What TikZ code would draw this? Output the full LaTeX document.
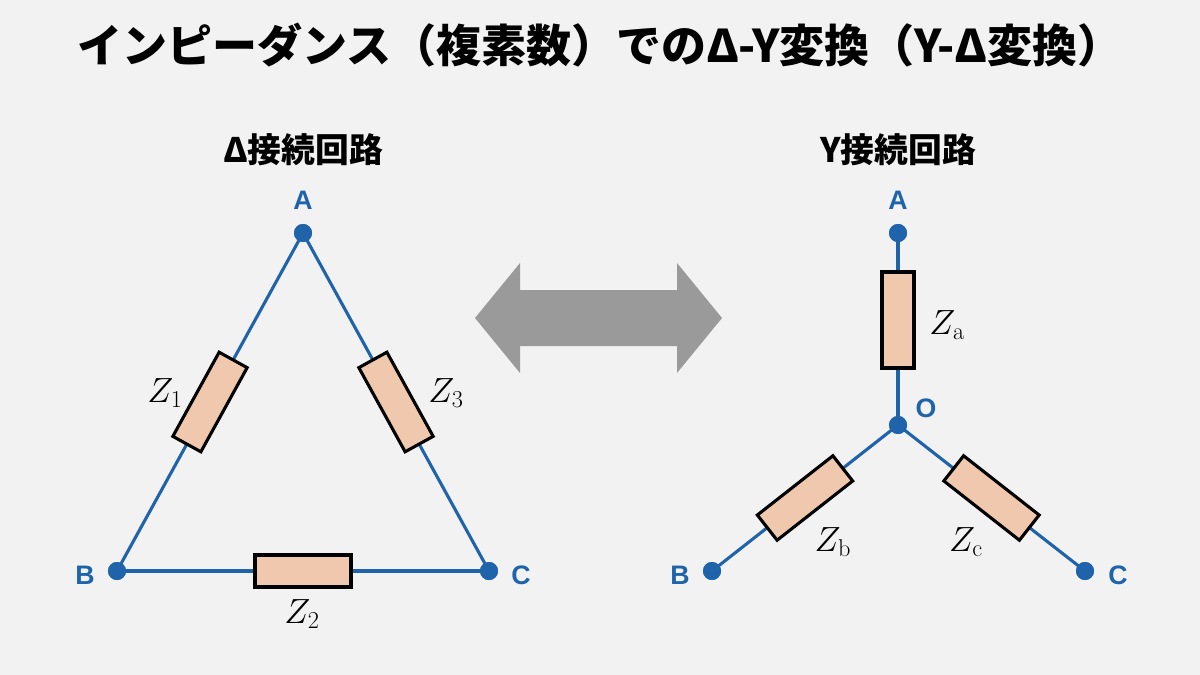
\documentclass[tikz,border=0pt]{standalone}
\usepackage[no-math]{fontspec}
\setmainfont{Noto Sans CJK JP}
\newfontfamily\termfont{Liberation Sans}
\usepackage{tikz}
\usetikzlibrary{calc}
\definecolor{bg}{HTML}{F2F2F2}
\definecolor{wire}{HTML}{1F64AA}
\definecolor{resfill}{HTML}{F0C8AE}
\definecolor{arrowgray}{HTML}{9A9A9A}
\begin{document}
\begin{tikzpicture}[x=0.025cm,y=-0.025cm]
    \tikzset{
        wire/.style={draw=wire, line width=2.2pt},
        res/.style={draw=black, fill=resfill, line width=2.2pt, minimum width=2.4cm, minimum height=0.8cm, inner sep=0pt},
        dot/.style={circle, fill=wire, minimum size=0.45cm, inner sep=0pt},
        term/.style={text=wire, font=\termfont\fontsize{19}{19}\selectfont\bfseries},
        zlab/.style={font=\fontsize{23}{23}\selectfont}
    }

    % Background
    \fill[bg] (0,0) rectangle (1200,675);

    % Titles
    \node (title) at (600,45) {\fontsize{32}{32}\selectfont\bfseries インピーダンス（複素数）でのΔ-Y変換（Y-Δ変換）};
    \node (dtitle) at (303,150) {\fontsize{24}{24}\selectfont\bfseries Δ接続回路};
    \node (ytitle) at (898,150) {\fontsize{24}{24}\selectfont\bfseries Y接続回路};

    % Delta circuit
    \node[dot] (dA) at (303,233) {};
    \node[dot] (dB) at (117,571) {};
    \node[dot] (dC) at (489,571) {};
    \draw[wire] (dA.center) -- node[res, sloped] (z1) {} (dB.center);
    \draw[wire] (dA.center) -- node[res, sloped] (z3) {} (dC.center);
    \draw[wire] (dB.center) -- node[res] (z2) {} (dC.center);
    \node[dot] at (dA) {};
    \node[dot] at (dB) {};
    \node[dot] at (dC) {};

    \node[term] at (303,200) {A};
    \node[term] at (85,575) {B};
    \node[term] at (521,575) {C};
    \node[zlab] at (165,393) {$Z_1$};
    \node[zlab] at (446,393) {$Z_3$};
    \node[zlab] at (302,614) {$Z_2$};

    % Double arrow
    \fill[arrowgray] (475,318) -- (520,263) -- (520,290) -- (677,290) -- (677,263)
        -- (722,318) -- (677,373) -- (677,346) -- (520,346) -- (520,373) -- cycle;

    % Y circuit
    \node[dot] (yA) at (898,233) {};
    \node[dot] (yO) at (898,425) {};
    \node[dot] (yB) at (712,571) {};
    \node[dot] (yC) at (1085,571) {};
    \draw[wire] (yA.center) -- (yO.center);
    \draw[wire] (yO.center) -- (yB.center);
    \draw[wire] (yO.center) -- (yC.center);
    \node[res, rotate=90] (za) at (898,320) {};
    \node[res, rotate=38.1] (zb) at ($(yO)!0.5!(yB)$) {};
    \node[res, rotate=-38.1] (zc) at ($(yO)!0.5!(yC)$) {};
    \node[dot] at (yA) {};
    \node[dot] at (yO) {};
    \node[dot] at (yB) {};
    \node[dot] at (yC) {};

    \node[term] at (898,200) {A};
    \node[term] at (926,408) {O};
    \node[term] at (680,575) {B};
    \node[term] at (1118,575) {C};
    \node[zlab] at (947,325) {$Z_{\mathrm{a}}$};
    \node[zlab] at (833,542) {$Z_{\mathrm{b}}$};
    \node[zlab] at (966,542) {$Z_{\mathrm{c}}$};
\end{tikzpicture}
\end{document}
